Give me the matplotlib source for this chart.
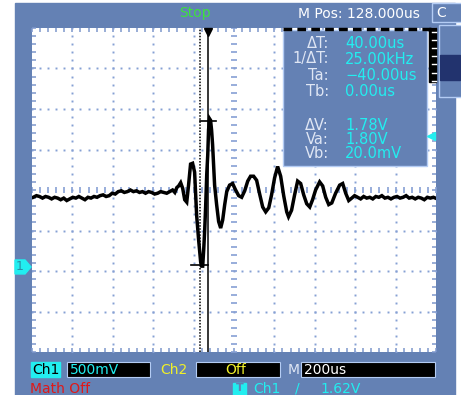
import numpy as np
import matplotlib
matplotlib.use('Agg')
import matplotlib.pyplot as plt
from matplotlib.patches import Rectangle, Polygon

# === Captured Ch1 trace (time relative to trigger, us / volts) ===
t_us = [-866, -850, -835, -820, -805, -790, -775, -760, -745, -730, -715, -700,
        -685, -670, -655, -640, -625, -610, -595, -580, -565, -550, -535, -520,
        -505, -490, -475, -460, -445, -430, -415, -400, -385, -370, -355, -340,
        -325, -310, -295, -280, -265, -250, -235, -220, -205, -190, -176, -165,
        -155, -146, -136, -126, -116, -106, -97, -87, -77, -67, -57, -47, -37,
        -32, -27, -22, -17, -12, -7, -2, 2, 7, 12, 17, 22, 27, 32, 42, 52, 62,
        72, 82, 92, 106, 121, 136, 151, 166, 181, 196, 210, 225, 240, 255, 270,
        285, 300, 314, 329, 344, 359, 374, 389, 398, 413, 428, 443, 458, 473,
        488, 503, 517, 532, 552, 567, 582, 597, 612, 631, 651, 666, 681, 696,
        711, 725, 740, 755, 770, 785, 800, 815, 830, 845, 860, 875, 890, 905,
        920, 935, 950, 965, 980, 995, 1010, 1025, 1040, 1055, 1070, 1085, 1100,
        1115, 1125]
v_ch1 = [0.86, 0.88, 0.87, 0.85, 0.87, 0.86, 0.84, 0.86, 0.85, 0.83, 0.85, 0.82,
         0.84, 0.86, 0.85, 0.87, 0.85, 0.83, 0.86, 0.85, 0.87, 0.86, 0.88, 0.89,
         0.87, 0.88, 0.91, 0.90, 0.93, 0.94, 0.92, 0.93, 0.95, 0.93, 0.94, 0.92,
         0.93, 0.91, 0.93, 0.92, 0.90, 0.91, 0.93, 0.92, 0.91, 0.93, 0.95, 0.92,
         0.98, 1.00, 1.04, 0.97, 0.83, 0.80, 1.01, 1.27, 1.28, 1.17, 0.64, 0.33, 0.06,
         0.01, 0.01, 0.21, 0.46, 0.77, 1.14, 1.38, 1.69, 1.83, 1.81, 1.69, 1.51, 1.26, 1.01, 0.77, 0.56, 0.48,
         0.58, 0.77, 0.93, 1.01, 1.03, 0.95, 0.88, 0.86, 0.94, 1.06, 1.12, 1.12, 1.07, 0.90, 0.74,
         0.68, 0.73, 0.89, 1.10, 1.24, 1.12, 0.88, 0.68, 0.62, 0.70, 0.89, 1.06, 1.03, 0.89,
         0.78, 0.74, 0.83, 0.95, 1.05, 1.00, 0.86, 0.77, 0.79, 0.91, 1.01, 1.03, 0.91, 0.82,
         0.85, 0.88, 0.86, 0.84, 0.87, 0.85, 0.86, 0.84, 0.87, 0.86, 0.88, 0.85, 0.86, 0.84,
         0.86, 0.87, 0.85, 0.86, 0.88, 0.85, 0.86, 0.84, 0.86, 0.85, 0.83, 0.86, 0.85,
         0.86, 0.85]

# === Scope settings and cursor readout ===
volts_per_div = 0.5
time_per_div = 200.0
m_pos = 128.0
ch1_ground_div = -1.9
trig_level = 1.62
cursor_ta, cursor_tb = -40.0, 0.0
cursor_va, cursor_vb = 1.80, 0.02
readout_labels = ['ΔT:', '1/ΔT:', 'Ta:', 'Tb:', 'ΔV:', 'Va:', 'Vb:']
readout_values = ['40.00us', '25.00kHz', '−40.00us', '0.00us', '1.78V', '1.80V', '20.0mV']

# === Colours ===
BLUE = '#6481b4'
GRID = '#86a0d4'
EDGE = '#b4ccf4'
CYAN = '#22eef0'
YELLOW = '#f0f028'
RED = '#e01818'
GREEN = '#3ee03e'
LABEL = '#dfe6f4'

plt.rcParams['font.family'] = 'DejaVu Sans'
W, H = 461, 395
fig = plt.figure(figsize=(W / 100, H / 100), dpi=100)
fig.patch.set_facecolor('white')

# background layer in pixel coordinates
bg = fig.add_axes([0, 0, 1, 1], zorder=0)
bg.set_xlim(0, W)
bg.set_ylim(H, 0)
bg.axis('off')
bg.add_patch(Rectangle((15, 3), 440, 395, color=BLUE))

bg.text(195, 13, 'Stop', color=GREEN, fontsize=10, ha='center', va='center')
bg.text(298, 14, 'M Pos: 128.000us', color='white', fontsize=10, ha='left', va='center')
bg.add_patch(Rectangle((432, 3), 30, 19, fc=BLUE, ec=EDGE, lw=1))
bg.text(436, 13, 'C', color='white', fontsize=10, ha='left', va='center')
bg.add_patch(Rectangle((439, 25), 25, 72, fc=BLUE, ec=EDGE, lw=1))
bg.add_patch(Rectangle((440, 55), 20, 25, color='#22336e'))

# ground marker for Ch1
gy = 190 - ch1_ground_div * 40.5
bg.add_patch(Polygon([(15, gy - 7), (25, gy - 7), (31, gy), (25, gy + 7), (15, gy + 7)],
                     closed=True, color=CYAN))
bg.text(20, gy, '1', color='#2a8fa8', fontsize=9, ha='center', va='center')

# bottom status bar
bg.add_patch(Rectangle((31, 362), 29, 15, color=CYAN))
bg.text(45.5, 369.5, 'Ch1', color='black', fontsize=10, ha='center', va='center')
bg.add_patch(Rectangle((67, 362), 83, 15, fc='black', ec=EDGE, lw=0.8))
bg.text(70, 369.5, '500mV', color=CYAN, fontsize=10, ha='left', va='center')
bg.text(160, 369.5, 'Ch2', color=YELLOW, fontsize=10, ha='left', va='center')
bg.add_patch(Rectangle((196, 362), 84, 15, fc='black', ec=EDGE, lw=0.8))
bg.text(236, 369.5, 'Off', color=YELLOW, fontsize=10, ha='center', va='center')
bg.text(288, 369.5, 'M', color=LABEL, fontsize=10, ha='left', va='center')
bg.add_patch(Rectangle((301, 362), 134, 15, fc='black', ec=EDGE, lw=0.8))
bg.text(304, 369.5, '200us', color='white', fontsize=10, ha='left', va='center')

bg.text(30, 382, 'Math Off', color=RED, fontsize=10, ha='left', va='top')
bg.add_patch(Rectangle((233, 383), 13, 12, color=CYAN))
bg.text(239.5, 383, 'T', color=BLUE, fontsize=8, ha='center', va='top', fontweight='bold')
bg.text(253, 382, 'Ch1', color=CYAN, fontsize=10, ha='left', va='top')
bg.text(295, 382, '/', color=CYAN, fontsize=10, ha='left', va='top')
bg.text(320, 382, f'{trig_level:.2f}V', color=CYAN, fontsize=10, ha='left', va='top')

# === Scope screen ===
ax = fig.add_axes([32 / W, 1 - 352 / H, 404 / W, 324 / H], zorder=1)
ax.set_facecolor('white')
yc = -ch1_ground_div * volts_per_div
x0, x1 = m_pos - 5 * time_per_div, m_pos + 5 * time_per_div
y0, y1 = yc - 4 * volts_per_div, yc + 4 * volts_per_div
ax.set_xlim(x0, x1)
ax.set_ylim(y0, y1)
for s in ax.spines.values():
    s.set_visible(False)

xsub = np.linspace(x0, x1, 51)
ysub = np.linspace(y0, y1, 41)
ax.set_xticks(xsub)
ax.set_yticks(ysub)
ax.tick_params(direction='in', length=3.2, width=1.1, color='#7d97cc',
               top=True, right=True, labelbottom=False, labelleft=False)

for xd in np.linspace(x0, x1, 11)[1:-1]:
    if np.isclose(xd, m_pos):
        ax.plot(np.full_like(ysub, xd), ysub, ls='none', marker='_', ms=4, mew=1.2, color=GRID)
    else:
        ax.plot(np.full_like(ysub, xd), ysub, ls='none', marker='s', ms=1.4, mew=0, color=GRID)
for yd in np.linspace(y0, y1, 9)[1:-1]:
    if np.isclose(yd, yc):
        ax.plot(xsub, np.full_like(xsub, yd), ls='none', marker='|', ms=4, mew=1.2, color=GRID)
    else:
        ax.plot(xsub, np.full_like(xsub, yd), ls='none', marker='s', ms=1.4, mew=0, color=GRID)

ax.plot(t_us, v_ch1, color='black', lw=2.5, solid_joinstyle='miter')

# cursors
ax.axvline(cursor_tb, color='black', lw=1.1)
ax.axvline(cursor_ta, color='black', lw=1.1, ls=(0, (1, 1)))
ax.plot([cursor_tb - 40, cursor_tb + 40], [cursor_va, cursor_va], color='black', lw=1.2)
ax.plot([cursor_ta - 45, cursor_ta + 40], [cursor_vb, cursor_vb], color='black', lw=1.2)
ax.plot(cursor_tb, y1 - 0.05, marker='v', ms=6, color='black', clip_on=False)

# === Overlay: cursor readout box ===
ov = fig.add_axes([0, 0, 1, 1], zorder=2)
ov.set_xlim(0, W)
ov.set_ylim(H, 0)
ov.axis('off')
ov.patch.set_alpha(0)
ov.plot([283, 436], [28.5, 28.5], color='black', lw=2.5, dashes=(2.5, 1.5))
ov.add_patch(Rectangle((283, 30), 144, 136, fc=BLUE, ec=EDGE, lw=1))
ov.add_patch(Rectangle((429, 28), 7, 54, color='black'))
for yy in np.arange(32, 82, 8.1):
    ov.plot([432, 436], [yy, yy], color='white', lw=1)

rows_y = [43, 59, 75, 91, 125, 139, 154]
for lab, val, ry in zip(readout_labels, readout_values, rows_y):
    ov.text(329, ry, lab, color=LABEL, fontsize=10.5, ha='right', va='center')
    ov.text(345, ry, val, color=CYAN, fontsize=10.5, ha='left', va='center')

trig_y = 190 - (trig_level - yc) / volts_per_div * 40.5
ov.plot(431, trig_y, marker='<', ms=6, color=CYAN)

fig.savefig('out.png', dpi=100)
